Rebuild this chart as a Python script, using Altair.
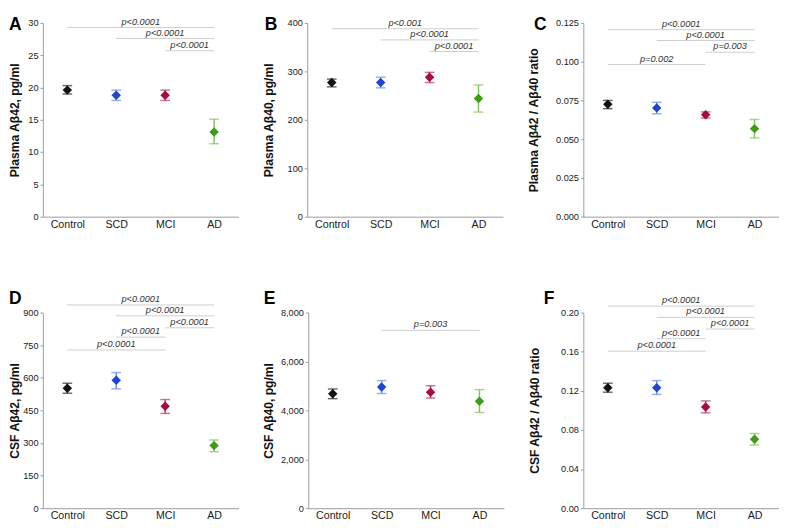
import json
import altair as alt
import pandas as pd

groups = ["Control", "SCD", "MCI", "AD"]
marker_colors = ["#111111", "#1e44d4", "#a60a40", "#3f9c16"]
bar_colors = ["#2b2b2b", "#6f90e6", "#b43a62", "#80c45c"]

# Panel A: Plasma Abeta42
a_mean = [19.6, 18.8, 18.8, 13.1]
a_low = [19.0, 18.0, 18.0, 11.3]
a_high = [20.3, 19.6, 19.6, 15.1]
a_from = ["Control", "SCD", "MCI"]
a_to = ["AD", "AD", "AD"]
a_line = [29.3, 27.6, 25.7]
a_p = ["p<0.0001", "p<0.0001", "p<0.0001"]
a_ticks = [0, 5, 10, 15, 20, 25, 30]

# Panel B: Plasma Abeta40
b_mean = [277, 277, 288, 244]
b_low = [268, 266, 277, 216]
b_high = [284, 288, 298, 272]
b_from = ["Control", "SCD", "MCI"]
b_to = ["AD", "AD", "AD"]
b_line = [388, 365, 341]
b_p = ["p<0.001", "p<0.0001", "p<0.0001"]
b_ticks = [0, 100, 200, 300, 400]

# Panel C: Plasma ratio
c_mean = [0.0725, 0.0702, 0.0658, 0.0568]
c_low = [0.0697, 0.0664, 0.0637, 0.0508]
c_high = [0.0750, 0.0738, 0.0676, 0.0627]
c_from = ["Control", "SCD", "MCI", "Control"]
c_to = ["AD", "AD", "AD", "MCI"]
c_line = [0.1207, 0.1137, 0.1061, 0.0982]
c_p = ["p<0.0001", "p<0.0001", "p=0.003", "p=0.002"]
c_ticks = [0, 0.025, 0.05, 0.075, 0.1, 0.125]

# Panel D: CSF Abeta42
d_mean = [552, 589, 469, 288]
d_low = [529, 549, 436, 260]
d_high = [575, 624, 500, 314]
d_from = ["Control", "SCD", "MCI", "SCD", "Control"]
d_to = ["AD", "AD", "AD", "MCI", "MCI"]
d_line = [935, 885, 830, 787, 728]
d_p = ["p<0.0001"] * 5
d_ticks = [0, 150, 300, 450, 600, 750, 900]

# Panel E: CSF Abeta40
e_mean = [4680, 4955, 4745, 4375]
e_low = [4480, 4690, 4505, 3915]
e_high = [4875, 5220, 5010, 4850]
e_from = ["SCD"]
e_to = ["AD"]
e_line = [7275]
e_p = ["p=0.003"]
e_ticks = [0, 2000, 4000, 6000, 8000]

# Panel F: CSF ratio
f_mean = [0.1232, 0.1232, 0.1035, 0.0705]
f_low = [0.1186, 0.1163, 0.0975, 0.0646]
f_high = [0.1278, 0.1305, 0.1097, 0.0764]
f_from = ["Control", "SCD", "MCI", "SCD", "Control"]
f_to = ["AD", "AD", "AD", "MCI", "MCI"]
f_line = [0.2066, 0.1951, 0.1832, 0.1733, 0.1605]
f_p = ["p<0.0001"] * 5
f_ticks = [0, 0.04, 0.08, 0.12, 0.16, 0.20]

AXIS_GRAY = "#9a9a9a"


def panel(letter, ytitle, mean, low, high, c_from_, c_to_, c_y, c_txt, ticks, fmt,
          height, tpad, tdx, toff):
    df = pd.DataFrame({
        "group": groups, "idx": list(range(len(groups))),
        "mean": mean, "low": low, "high": high,
        "mc": marker_colors, "bc": bar_colors,
    })
    x1 = [groups.index(s) for s in c_from_]
    x2 = [groups.index(s) for s in c_to_]
    comp = pd.DataFrame({"x1": x1, "x2": x2, "xm": [(a + b) / 2 for a, b in zip(x1, x2)],
                         "y": c_y, "p": c_txt})

    xscale = alt.Scale(domain=[-0.5, len(groups) - 0.5], nice=False, zero=False)
    xaxis = alt.Axis(values=list(range(len(groups))),
                     labelExpr=json.dumps(groups).replace('"', "'") + "[datum.value]",
                     ticks=False, grid=False, title=None, labelFontSize=11,
                     labelPadding=2, domainColor=AXIS_GRAY, labelColor="#1a1a1a",
                     labelFlush=False, labelOverlap=False)
    yscale = alt.Scale(domain=[ticks[0], ticks[-1]], nice=False, zero=True)
    yaxis = alt.Axis(values=ticks, format=fmt, title=ytitle, grid=False,
                     labelFontSize=9.5, labelPadding=2, tickSize=3,
                     tickColor=AXIS_GRAY, domainColor=AXIS_GRAY, labelColor="#1a1a1a",
                     titleFontSize=12.5, titleFontWeight="bold", titleColor="#111111",
                     titlePadding=tpad, labelFlush=False, labelOverlap=False)

    def X(f):
        return alt.X(f, type="quantitative", scale=xscale, axis=xaxis)

    def Y(f):
        return alt.Y(f, type="quantitative", scale=yscale, axis=yaxis)

    base = alt.Chart(df)
    bars = base.mark_rule(strokeWidth=1.5).encode(
        x=X("idx"), y=Y("low"), y2="high", color=alt.Color("bc:N", scale=None))
    cap_lo = base.mark_tick(orient="horizontal", size=10, thickness=1.5).encode(
        x=X("idx"), y=Y("low"), color=alt.Color("bc:N", scale=None))
    cap_hi = base.mark_tick(orient="horizontal", size=10, thickness=1.5).encode(
        x=X("idx"), y=Y("high"), color=alt.Color("bc:N", scale=None))
    pts = base.mark_point(shape="diamond", filled=True, size=95, opacity=1).encode(
        x=X("idx"), y=Y("mean"), color=alt.Color("mc:N", scale=None))

    cb = alt.Chart(comp)
    lines = cb.mark_rule(color="#cccccc", strokeWidth=1).encode(
        x=X("x1"), x2="x2", y=Y("y"))
    texts = cb.mark_text(fontStyle="italic", fontSize=9.5, color="#333333",
                         baseline="alphabetic", dy=-3).encode(
        x=X("xm"), y=Y("y"), text="p:N")

    return alt.layer(lines, texts, bars, cap_lo, cap_hi, pts).properties(
        width=202, height=height,
        title=alt.TitleParams(letter, anchor="start", frame="group", fontSize=18,
                              fontWeight="bold", color="#000000", dx=tdx,
                              offset=toff, baseline="top"))


A = panel("A", "Plasma Aβ42, pg/ml", a_mean, a_low, a_high, a_from, a_to, a_line, a_p,
          a_ticks, "d", 200, 6.9, -35, -18)
B = panel("B", "Plasma Aβ40, pg/ml", b_mean, b_low, b_high, b_from, b_to, b_line, b_p,
          b_ticks, "d", 200, 11.6, -44, -16.5)
C = panel("C", "Plasma Aβ42 / Aβ40 ratio", c_mean, c_low, c_high, c_from, c_to, c_line, c_p,
          c_ticks, ".3f", 200, 15.4, -51, -16.5)
D = panel("D", "CSF Aβ42, pg/ml", d_mean, d_low, d_high, d_from, d_to, d_line, d_p,
          d_ticks, "d", 202, 1.65, -35, -14.3)
E = panel("E", "CSF Aβ40, pg/ml", e_mean, e_low, e_high, e_from, e_to, e_line, e_p,
          e_ticks, ",.0f", 202, 5.2, -46, -0.5)
F = panel("F", "CSF Aβ42 / Aβ40 ratio", f_mean, f_low, f_high, f_from, f_to, f_line, f_p,
          f_ticks, ".2f", 202, 20, -41, -13)

row1 = alt.hconcat(A, B, C, spacing=25)
row2 = alt.hconcat(D, E, F, spacing=25)
chart = alt.vconcat(row1, row2, spacing=63).properties(padding=0).configure(
    font="Liberation Sans").configure_view(stroke=None)

chart.save("out.html", embed_options={"renderer": "svg", "actions": False})
